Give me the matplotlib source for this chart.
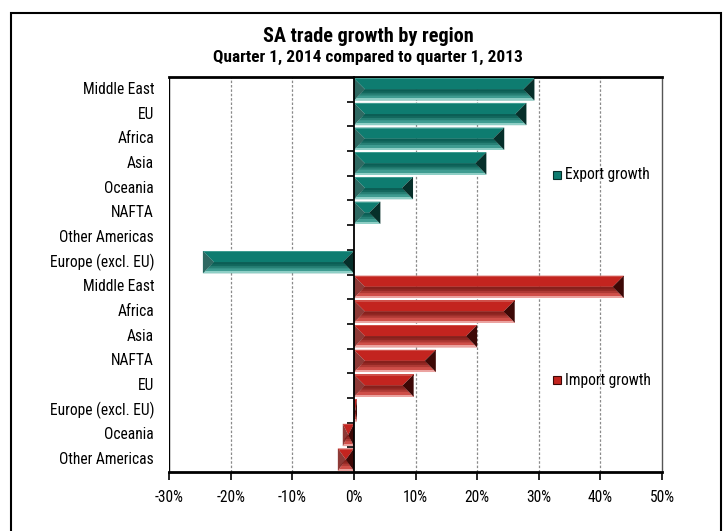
import matplotlib
matplotlib.use("Agg")
import matplotlib.pyplot as plt
from matplotlib.patches import Polygon, Rectangle
from matplotlib import font_manager

# --- data -------------------------------------------------------------
export_regions = ["Middle East", "EU", "Africa", "Asia", "Oceania", "NAFTA",
                  "Other Americas", "Europe (excl. EU)"]
export_growth = [29.3, 28.0, 24.4, 21.5, 9.6, 4.3, 0.0, -24.5]

import_regions = ["Middle East", "Africa", "Asia", "NAFTA", "EU",
                  "Europe (excl. EU)", "Oceania", "Other Americas"]
import_growth = [43.8, 26.1, 20.0, 13.3, 9.7, 0.5, -1.8, -2.6]

x_ticks = [-30, -20, -10, 0, 10, 20, 30, 40, 50]
x_tick_labels = ["-30%", "-20%", "-10%", "0%", "10%", "20%", "30%", "40%", "50%"]

title = "SA trade growth by region"
subtitle = "Quarter 1, 2014 compared to quarter 1, 2013"
series_names = ["Export growth", "Import growth"]

# --- fonts: prefer a condensed face ---------------------------------------
installed = {f.name for f in font_manager.fontManager.ttflist}
condensed = ["Roboto Condensed", "Liberation Sans Narrow", "DejaVu Sans Condensed",
             "Open Sans Condensed", "Noto Sans Condensed"]
family = next((f for f in condensed if f in installed), None)
if family is None:
    family = "Liberation Sans"
    scale = 0.86
else:
    scale = 1.0
plt.rcParams["font.family"] = [family, "DejaVu Sans"]

fs_title = 14.6 * scale
fs_sub = 12.4 * scale
fs_lab = 11.2 * scale

# --- palettes for bevelled bars -------------------------------------------
teal = dict(top="#0e7c70", bottom="#3f9c91", groove="#0b5e55", edge="#8fcfc6",
            right="#062f2a", left="#0a4f47")
red = dict(top="#c3241f", bottom="#cf4f49", groove="#86201c", edge="#eba3a0",
           right="#3d0806", left="#7a1714")

W, H, DPI = 728, 531, 100
fig = plt.figure(figsize=(W / DPI, H / DPI), dpi=DPI)
ax = fig.add_axes([169 / W, 1 - 472 / H, (662 - 169) / W, (472 - 77) / H])

xmin, xmax = -30, 50
n = len(export_regions) + len(import_regions)
ax.set_xlim(xmin, xmax)
ax.set_ylim(n, 0)

labels = export_regions + import_regions
values = export_growth + import_growth
palettes = [teal] * len(export_growth) + [red] * len(import_growth)

bar_h = 0.9
# pixels per data unit, to keep the end bevels at 45 degrees
ax_w_px = (662 - 169)
ax_h_px = (472 - 77)
px_x = ax_w_px / (xmax - xmin)
px_y = ax_h_px / n
k = px_y / px_x


def bevel_bar(ax, yc, v, pal):
    if v == 0:
        return
    x0, x1 = min(0, v), max(0, v)
    top, bot = yc - bar_h / 2, yc + bar_h / 2
    mid = yc
    d = min((bar_h / 2) * k, (x1 - x0) / 2)
    ax.add_patch(Polygon([(x0, top), (x1, top), (x1 - d, mid), (x0 + d, mid)],
                         closed=True, facecolor=pal["top"], edgecolor="none", zorder=3))
    ax.add_patch(Polygon([(x0, bot), (x1, bot), (x1 - d, mid), (x0 + d, mid)],
                         closed=True, facecolor=pal["bottom"], edgecolor="none", zorder=3))
    # soft dark band just below the ridge
    for frac, a in ((0.28, 0.45), (0.18, 0.7), (0.09, 1.0)):
        g = bar_h * frac
        gd = min(g * k, d)
        ax.add_patch(Polygon([(x0 + d, mid), (x1 - d, mid),
                              (x1 - d + gd, mid + g), (x0 + d - gd, mid + g)],
                             closed=True, facecolor=pal["groove"], edgecolor="none",
                             alpha=a, zorder=3))
    e = bar_h * 0.09
    ax.add_patch(Rectangle((x0, bot - e), x1 - x0, e, facecolor=pal["edge"],
                           edgecolor="none", zorder=3))
    ax.add_patch(Rectangle((x0, top), x1 - x0, e * 0.6, facecolor=pal["bottom"],
                           edgecolor="none", zorder=3))
    ax.add_patch(Polygon([(x1, top), (x1, bot), (x1 - d, mid)], closed=True,
                         facecolor=pal["right"], edgecolor="none", zorder=3))
    ax.add_patch(Polygon([(x0, top), (x0, bot), (x0 + d, mid)], closed=True,
                         facecolor=pal["left"], edgecolor="none", zorder=3, alpha=0.85))


for i, (v, pal) in enumerate(zip(values, palettes)):
    bevel_bar(ax, i + 0.5, v, pal)

# vertical gridlines
for t in x_ticks:
    if t not in (xmin, 0, xmax):
        ax.axvline(t, color="#8a8a8a", lw=0.9, ls=(0, (2, 1.5)), zorder=1)

# frame
for side in ("top", "bottom"):
    ax.spines[side].set_linewidth(2.0)
    ax.spines[side].set_color("black")
ax.spines["right"].set_linewidth(1.0)
ax.spines["right"].set_color("#555555")
ax.spines["left"].set_position(("data", 0))
ax.spines["left"].set_linewidth(1.3)
ax.spines["left"].set_zorder(4)
ax.axvline(xmin, color="black", lw=1.0, zorder=2)

# y ticks at the category boundaries on the zero line
ax.set_yticks(range(1, n))
ax.tick_params(axis="y", length=5, width=1.2, direction="out", labelleft=False)
for i, lab in enumerate(labels):
    ax.text(-0.03, i + 0.5, lab, transform=ax.get_yaxis_transform(),
            ha="right", va="center", fontsize=fs_lab)

ax.set_xticks(x_ticks)
ax.set_xticklabels(x_tick_labels, fontsize=fs_lab)
ax.tick_params(axis="x", length=6, width=1.2, direction="out", pad=7)

# titles
fig.text(368 / W, 1 - 36 / H, title, ha="center", va="center",
         fontsize=fs_title, fontweight="bold")
fig.text(368 / W, 1 - 57 / H, subtitle, ha="center", va="center",
         fontsize=fs_sub, fontweight="bold")

# series keys
key_y = [175, 380]
for name, pal, ky in zip(series_names, [teal, red], key_y):
    fig.patches.append(Rectangle((553 / W, 1 - (ky + 4) / H), 8 / W, 8 / H,
                                 transform=fig.transFigure, facecolor=pal["top"],
                                 edgecolor=pal["right"], lw=0.8))
    fig.text(565 / W, 1 - ky / H, name, ha="left", va="center", fontsize=fs_lab)

# outer border
fig.patches.append(Rectangle((11 / W, -0.05), (721 - 11) / W, 1.05 - 13 / H,
                             transform=fig.transFigure, fill=False,
                             edgecolor="black", lw=1.5, clip_on=False))

fig.savefig("out.png", dpi=DPI)
